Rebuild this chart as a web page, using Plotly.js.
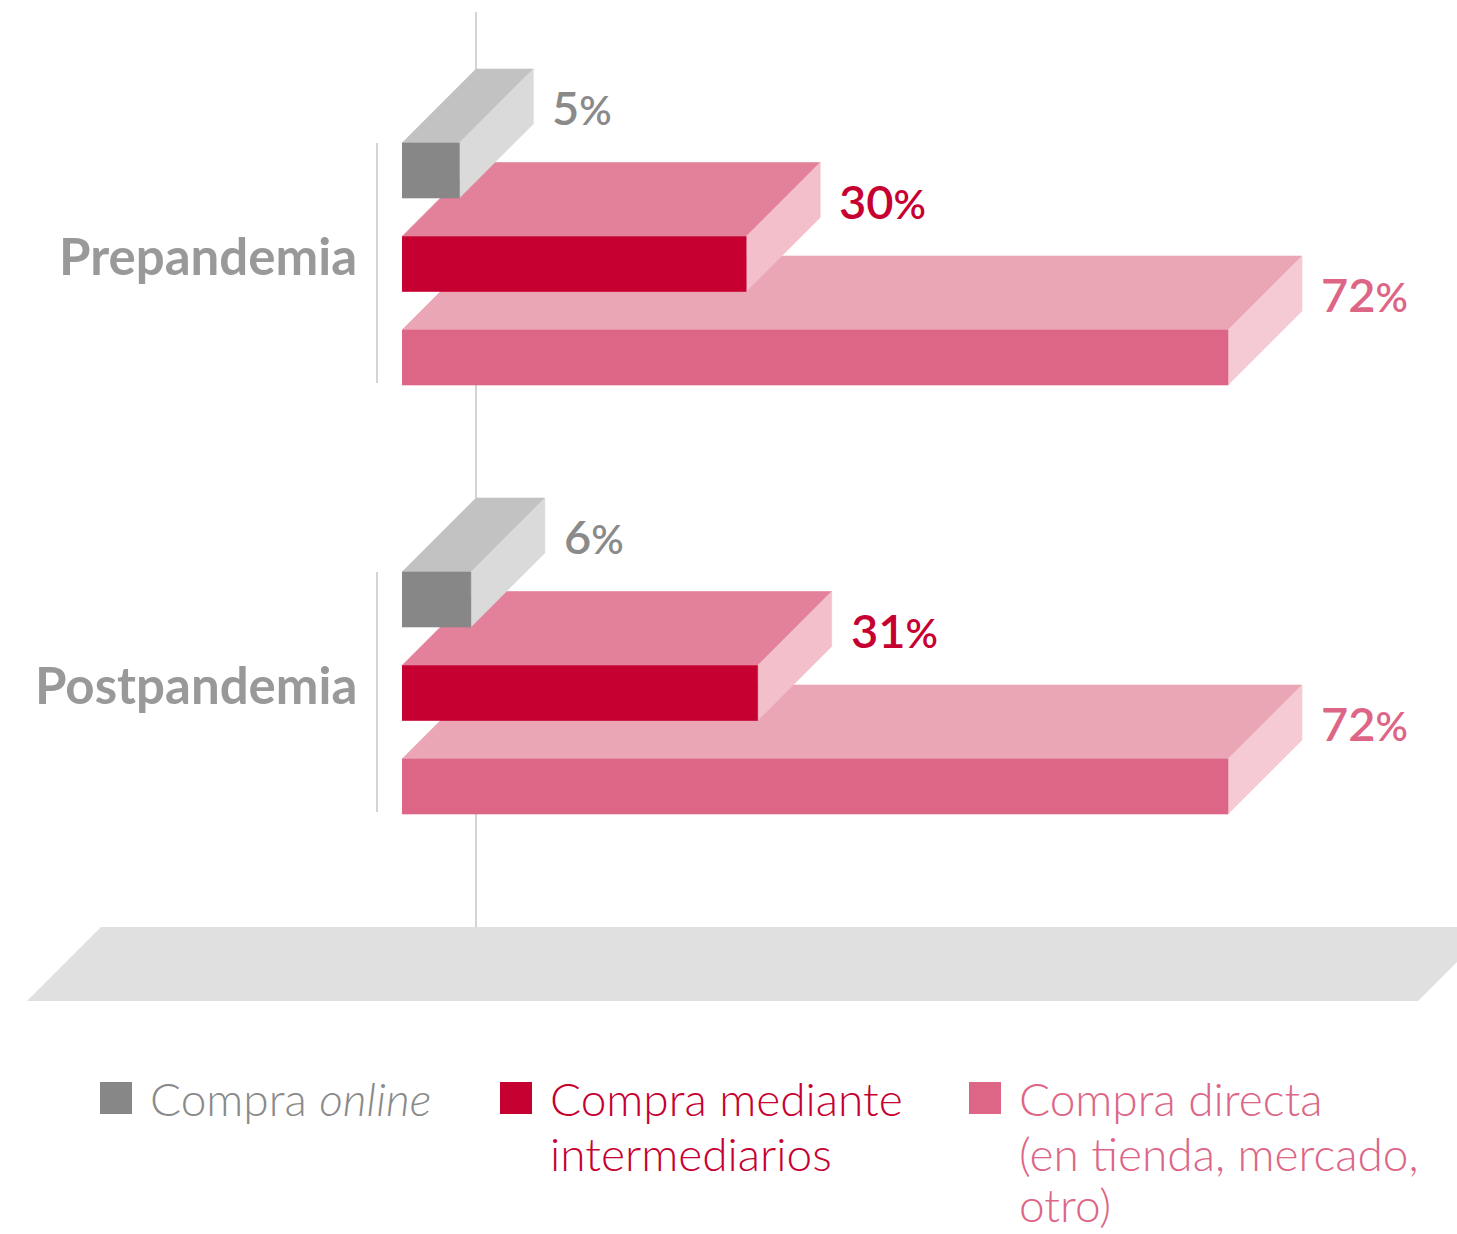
<!DOCTYPE html>
<html>
<head>
<meta charset="utf-8">
<script src="https://cdn.plot.ly/plotly-3.0.1.min.js"></script>
<style>html,body{margin:0;padding:0;background:#fff;}#chart{width:1457px;height:1234px;}</style>
</head>
<body>
<div id="chart"></div>
<script>
// ---- data ----
const categories = ['Prepandemia', 'Postpandemia'];
const seriesNames = [
  ['Compra <i>online</i>'],
  ['Compra mediante', 'intermediarios'],
  ['Compra directa', '(en tienda, mercado,', 'otro)']
];
const online = [5, 6];
const intermediarios = [30, 31];
const directa = [72, 72];

// ---- styling ----
const seriesValues = [online, intermediarios, directa];
const frontColors = ['#878787', '#c60031', '#dd6686'];
const topColors   = ['#c2c2c2', '#e28199', '#eba6b5'];
const sideColors  = ['#dadada', '#f2bfca', '#f5cad4'];
const labelColors = ['#8a8a8a', '#c60031', '#dd6686'];

const W = 1457, H = 1234;
const X0PX = 402;            // pixel where value 0 sits
const PXU = 826 / 72;        // pixels per percentage point
const DEPTH = 74;            // 3D depth in pixels
const D = DEPTH / PXU;       // depth in x units
const groupTop = [143, 572];
const SLOT = 93.5, BAR_H = 55;

const traces = [];
// draw from bottom bar (directa) to top bar (online) so upper bars overlap lower top faces
for (let s = seriesValues.length - 1; s >= 0; s--) {
  const vals = seriesValues[s];
  const faces = {top: {x: [], y: []}, side: {x: [], y: []}, front: {x: [], y: []}};
  vals.forEach((v, g) => {
    const t = groupTop[g] + s * SLOT, b = t + BAR_H;
    faces.top.x.push(0, D, v + D, v, null);
    faces.top.y.push(t, t - DEPTH, t - DEPTH, t, null);
    faces.side.x.push(v, v + D, v + D, v, null);
    faces.side.y.push(t, t - DEPTH, b - DEPTH, b, null);
    faces.front.x.push(0, v, v, 0, null);
    faces.front.y.push(t, t, b, b, null);
  });
  [['top', topColors[s]], ['side', sideColors[s]], ['front', frontColors[s]]].forEach(([f, c]) => {
    traces.push({
      type: 'scatter', mode: 'lines', x: faces[f].x, y: faces[f].y,
      fill: 'toself', fillcolor: c, line: {color: c, width: 0.6},
      hoverinfo: 'skip', showlegend: false
    });
  });
}

const annotations = [];
// value labels
seriesValues.forEach((vals, s) => {
  vals.forEach((v, g) => {
    const t = groupTop[g] + s * SLOT;
    annotations.push({
      xref: 'x', yref: 'y', x: v + D, y: t - 36, xshift: 17,
      xanchor: 'left', yanchor: 'middle', showarrow: false,
      text: v + '<span style="font-size:40px">%</span>',
      font: {family: 'Lato', size: 47, color: labelColors[s], weight: 600}
    });
  });
});
// category labels
categories.forEach((c, g) => {
  annotations.push({
    xref: 'x', yref: 'y', x: 0, xshift: -43,
    y: groupTop[g] + SLOT + BAR_H / 2 - 9,
    xanchor: 'right', yanchor: 'middle', showarrow: false,
    text: c, font: {family: 'Lato', size: 51, color: '#999999', weight: 700}
  });
});

// legend
const legendX = [100, 500, 969];
const LINE_H = 55;
const shapes = [];
seriesNames.forEach((lines, s) => {
  shapes.push({type: 'rect', xref: 'paper', yref: 'y',
    x0: legendX[s] / W, x1: (legendX[s] + 32) / W, y0: 1082, y1: 1114,
    fillcolor: frontColors[s], line: {width: 0}});
  lines.forEach((ln, i) => {
    const last = i === 2;
    annotations.push({
      xref: 'paper', yref: 'y', x: (legendX[s] + 48) / W,
      y: last ? H : 1098 + i * LINE_H,
      xanchor: 'left', yanchor: last ? 'bottom' : 'middle', align: 'left', showarrow: false,
      text: ln, font: {family: 'Lato', size: 46, color: labelColors[s], weight: 300}
    });
  });
});

// back zero line, category brackets, floor
shapes.push({type: 'line', xref: 'x', yref: 'y', x0: D, x1: D, y0: 12, y1: 927,
  line: {color: '#d4d4d4', width: 2}, layer: 'below'});
groupTop.forEach(t => {
  const bx = -25 / PXU;
  shapes.push({type: 'line', xref: 'x', yref: 'y', x0: bx, x1: bx, y0: t, y1: t + 2 * SLOT + BAR_H - 2,
    line: {color: '#d4d4d4', width: 2}, layer: 'below'});
});
const fl = (27 - X0PX) / PXU, fr = (1418 - X0PX) / PXU, FB = 1001, FT = FB - DEPTH;
shapes.push({type: 'path', xref: 'x', yref: 'y', layer: 'below',
  path: `M ${fl} ${FB} L ${fl + D} ${FT} L ${fr + D} ${FT} L ${fr} ${FB} Z`,
  fillcolor: '#e0e0e0', line: {width: 0}});

const layout = {
  width: W, height: H, margin: {l: 0, r: 0, t: 0, b: 0},
  paper_bgcolor: '#ffffff', plot_bgcolor: '#ffffff',
  showlegend: false,
  xaxis: {range: [-X0PX / PXU, (W - X0PX) / PXU], visible: false, fixedrange: true},
  yaxis: {range: [H, 0], visible: false, fixedrange: true},
  annotations: annotations, shapes: shapes,
  font: {family: 'Lato'}
};
Plotly.newPlot('chart', traces, layout, {staticPlot: true});
</script>
</body>
</html>
